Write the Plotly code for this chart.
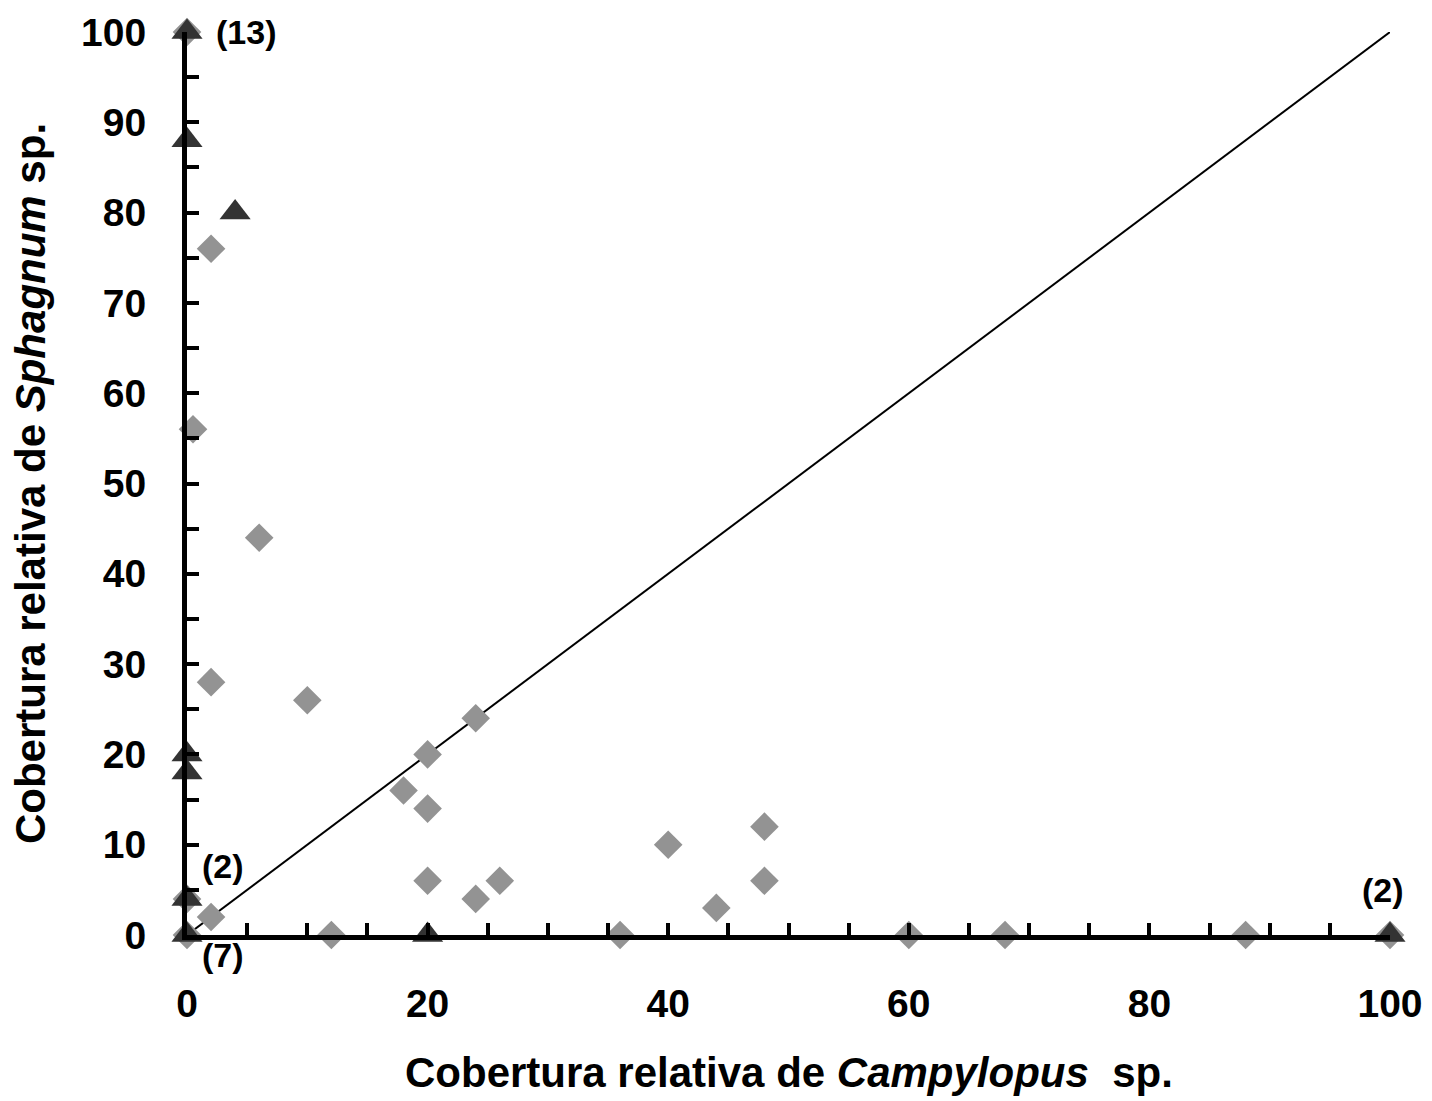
import plotly.graph_objects as go

# Grey diamonds series
diamond_x = [0, 2, 0.5, 6, 2, 10, 24, 20, 18, 20, 20, 24, 26, 40, 48, 48, 44, 0, 2, 0, 12, 36, 60, 68, 88, 100]
diamond_y = [100, 76, 56, 44, 28, 26, 24, 20, 16, 14, 6, 4, 6, 10, 12, 6, 3, 4, 2, 0, 0, 0, 0, 0, 0, 0]

# Dark triangles series
tri_x = [0, 0, 4, 0, 0, 0, 0, 20, 100]
tri_y = [100, 88, 80, 20, 18, 4, 0, 0, 0]

# 1:1 line
line_x = [0, 100]
line_y = [0, 100]

# Counts of overlapping points
note_text = ["(13)", "(2)", "(7)", "(2)"]
note_x = [4.9, 3, 3, 99.4]
note_y = [100, 7.6, 0, 5]
note_shift = [0, 0, -20, 0]

x_ticks = [0, 20, 40, 60, 80, 100]
y_ticks = [0, 10, 20, 30, 40, 50, 60, 70, 80, 90, 100]

FONT = "Liberation Sans, Arial, sans-serif"

fig = go.Figure()
fig.add_trace(go.Scatter(x=line_x, y=line_y, mode="lines",
                         line=dict(color="black", width=2), cliponaxis=False,
                         showlegend=False, hoverinfo="skip"))
fig.add_trace(go.Scatter(x=diamond_x, y=diamond_y, mode="markers",
                         marker=dict(symbol="diamond", size=22, color="#939393"),
                         cliponaxis=False, showlegend=False))
fig.add_trace(go.Scatter(x=tri_x, y=tri_y, mode="markers",
                         marker=dict(symbol="triangle-up", size=27, color="#333333"),
                         cliponaxis=False, showlegend=False))

for t, x, y, s in zip(note_text, note_x, note_y, note_shift):
    fig.add_annotation(x=x, y=y, yshift=s, text=t, showarrow=False,
                       xanchor="center", yanchor="middle",
                       font=dict(family=FONT, size=34, color="black", weight="bold"))

fig.add_annotation(xref="paper", yref="paper", x=0.5, y=-0.152,
                   xanchor="center", yanchor="middle",
                   text="Cobertura relativa de <i>Campylopus</i>  sp.", showarrow=False,
                   font=dict(family=FONT, size=42, color="black", weight="bold"))
fig.add_annotation(xref="paper", yref="paper", x=-0.13, y=0.5,
                   xanchor="center", yanchor="middle",
                   text="Cobertura relativa de <i>Sphagnum</i> sp.", showarrow=False,
                   textangle=-90,
                   font=dict(family=FONT, size=42, color="black", weight="bold"))

axis_common = dict(showgrid=False, zeroline=False, showline=True, linecolor="black",
                   linewidth=5, ticks="inside", ticklen=12, tickwidth=4, tickcolor="black",
                   ticklabeloverflow="allow",
                   tickfont=dict(family=FONT, size=39, color="black", weight="bold"))

fig.update_xaxes(range=[0, 100], tickmode="array", tickvals=x_ticks,
                 minor=dict(dtick=5, ticks="inside", ticklen=12, tickwidth=4, tickcolor="black"),
                 ticklabelstandoff=30, **axis_common)
fig.update_yaxes(range=[0, 100], tickmode="array", tickvals=y_ticks,
                 minor=dict(dtick=5, ticks="inside", ticklen=12, tickwidth=4, tickcolor="black"),
                 ticklabelstandoff=28, **axis_common)

fig.update_layout(width=1432, height=1101,
                  margin=dict(l=179, r=50, t=24, b=174, autoexpand=False),
                  plot_bgcolor="white", paper_bgcolor="white",
                  font=dict(family=FONT))

fig.write_html("out.html")
